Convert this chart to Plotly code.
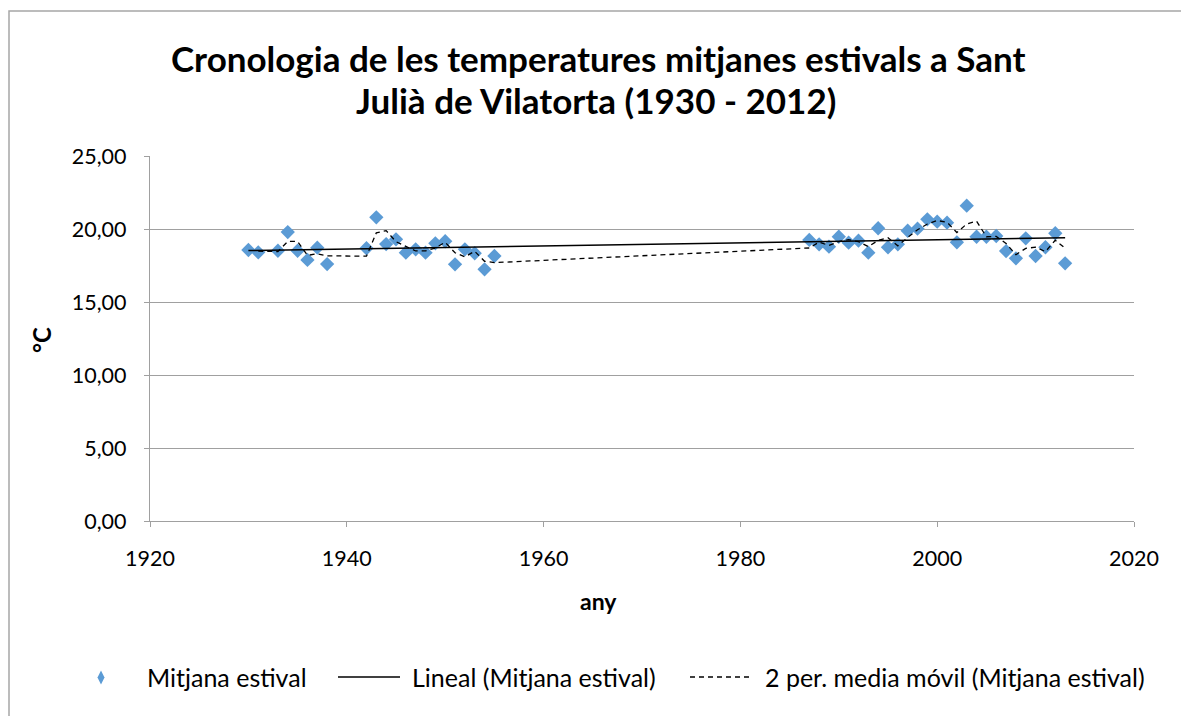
import numpy as np
import plotly.graph_objects as go

# ---- data ----
years = [1930, 1931, 1933, 1934, 1935, 1936, 1937, 1938, 1942, 1943, 1944, 1945,
         1946, 1947, 1948, 1949, 1950, 1951, 1952, 1953, 1954, 1955,
         1987, 1988, 1989, 1990, 1991, 1992, 1993, 1994, 1995, 1996, 1997, 1998,
         1999, 2000, 2001, 2002, 2003, 2004, 2005, 2006, 2007, 2008, 2009, 2010,
         2011, 2012, 2013]
temps = [18.56, 18.40, 18.51, 19.79, 18.51, 17.88, 18.72, 17.60, 18.68, 20.80, 18.97, 19.29,
         18.38, 18.61, 18.38, 19.02, 19.16, 17.58, 18.61, 18.34, 17.24, 18.15,
         19.25, 18.95, 18.79, 19.47, 19.06, 19.20, 18.38, 20.05, 18.75, 18.95, 19.88, 20.02,
         20.66, 20.50, 20.43, 19.09, 21.60, 19.47, 19.47, 19.52, 18.49, 17.99, 19.36, 18.15,
         18.75, 19.71, 17.65]

y_ticks = [0, 5, 10, 15, 20, 25]
x_ticks = [1920, 1940, 1960, 1980, 2000, 2020]

title_line1 = "Cronologia de les temperatures mitjanes estivals a Sant"
title_line2 = "Julià de Vilatorta (1930 - 2012)"
x_title = "any"
y_title = "°C"
series_name = "Mitjana estival"
trend_name = "Lineal (Mitjana estival)"
ma_name = "2 per. media móvil (Mitjana estival)"

# ---- derived series ----
x = np.array(years, dtype=float)
y = np.array(temps, dtype=float)
slope, intercept = np.polyfit(x, y, 1)
trend_x = [x.min(), x.max()]
trend_y = [slope * v + intercept for v in trend_x]
ma_x = x[1:]
ma_y = (y[1:] + y[:-1]) / 2

FONT = "Lato"
GRID = "#a0a0a0"
OFF = 8                      # page body margin
W, H = 1189 - OFF, 724 - 2 * OFF
L, R, T, B = 150, 1134, 156, 521  # plot area in screen px


def px_x(p):
    return (p - L) / (R - L)


def px_y(p):
    return (B - p) / (B - T)


fig = go.Figure()
fig.add_trace(go.Scatter(x=years, y=temps, mode="markers", name=series_name,
                         marker=dict(symbol="diamond", size=11, color="#5B9BD5",
                                     line=dict(width=0)),
                         showlegend=False))
fig.add_trace(go.Scatter(x=trend_x, y=trend_y, mode="lines", name=trend_name,
                         line=dict(color="black", width=1.5), showlegend=False))
fig.add_trace(go.Scatter(x=ma_x, y=ma_y, mode="lines", name=ma_name,
                         line=dict(color="black", width=1.3, dash="5px,4px"),
                         showlegend=False))

fig.update_layout(
    width=W, height=H,
    margin=dict(l=L - OFF, r=W - (R - OFF), t=T - OFF, b=H - (B - OFF)),
    paper_bgcolor="white", plot_bgcolor="white",
    separators=", ",
    font=dict(family=FONT, size=21.5, color="black"),
    showlegend=False,
)
fig.update_xaxes(range=[1920, 2020], tickvals=x_ticks, ticks="outside", ticklen=5,
                 tickcolor=GRID, showline=True, linecolor=GRID, linewidth=1.3,
                 showgrid=False, zeroline=False, ticklabelstandoff=13,
                 tickfont=dict(family=FONT, size=21.5, color="black"))
fig.update_yaxes(range=[0, 25], tickvals=y_ticks, tickformat=".2f", ticks="outside",
                 ticklen=5, tickcolor=GRID, showline=True, linecolor=GRID, linewidth=1.3,
                 showgrid=True, gridcolor=GRID, gridwidth=1.3, zeroline=False,
                 ticklabelstandoff=13,
                 tickfont=dict(family=FONT, size=21.5, color="black"))


def ann(text, xp, yp, size, anchor="center", bold=False, angle=0):
    return dict(text=("<b>%s</b>" % text) if bold else text, x=px_x(xp), y=px_y(yp),
                xref="paper", yref="paper", xanchor=anchor, yanchor="middle",
                showarrow=False, textangle=angle,
                font=dict(family=FONT, size=size, color="black"))


annotations = [
    ann(title_line1, 598, 58, 35, bold=True),
    ann(title_line2, 596, 100, 35, bold=True),
    ann(x_title, 598, 601, 23, bold=True),
    ann(y_title, 41, 340, 24, bold=True, angle=-90),
    ann(series_name, 145, 677, 25, anchor="left"),
    ann(trend_name, 410, 677, 25, anchor="left"),
    ann(ma_name, 763, 677, 25, anchor="left"),
]

shapes = [
    # outer chart border
    dict(type="rect", xref="paper", yref="paper", x0=px_x(9), x1=px_x(1187.5),
         y0=px_y(760), y1=px_y(11), line=dict(color="#a6a6a6", width=1.5),
         fillcolor="rgba(0,0,0,0)", layer="below"),
    # legend keys
    dict(type="path", xref="paper", yref="paper",
         path="M {a},{b} L {c},{d} L {a},{e} L {f},{d} Z".format(
             a=px_x(101), b=px_y(670.5), c=px_x(104.5), d=px_y(677.5), e=px_y(684.5), f=px_x(97.5)),
         fillcolor="#5B9BD5", line=dict(width=0)),
    dict(type="line", xref="paper", yref="paper", x0=px_x(338), x1=px_x(400),
         y0=px_y(677), y1=px_y(677), line=dict(color="black", width=1.5)),
    dict(type="line", xref="paper", yref="paper", x0=px_x(690), x1=px_x(751),
         y0=px_y(677), y1=px_y(677), line=dict(color="black", width=1.3, dash="5px,4px")),
]

fig.update_layout(annotations=annotations, shapes=shapes)
fig.write_html("out.html")
